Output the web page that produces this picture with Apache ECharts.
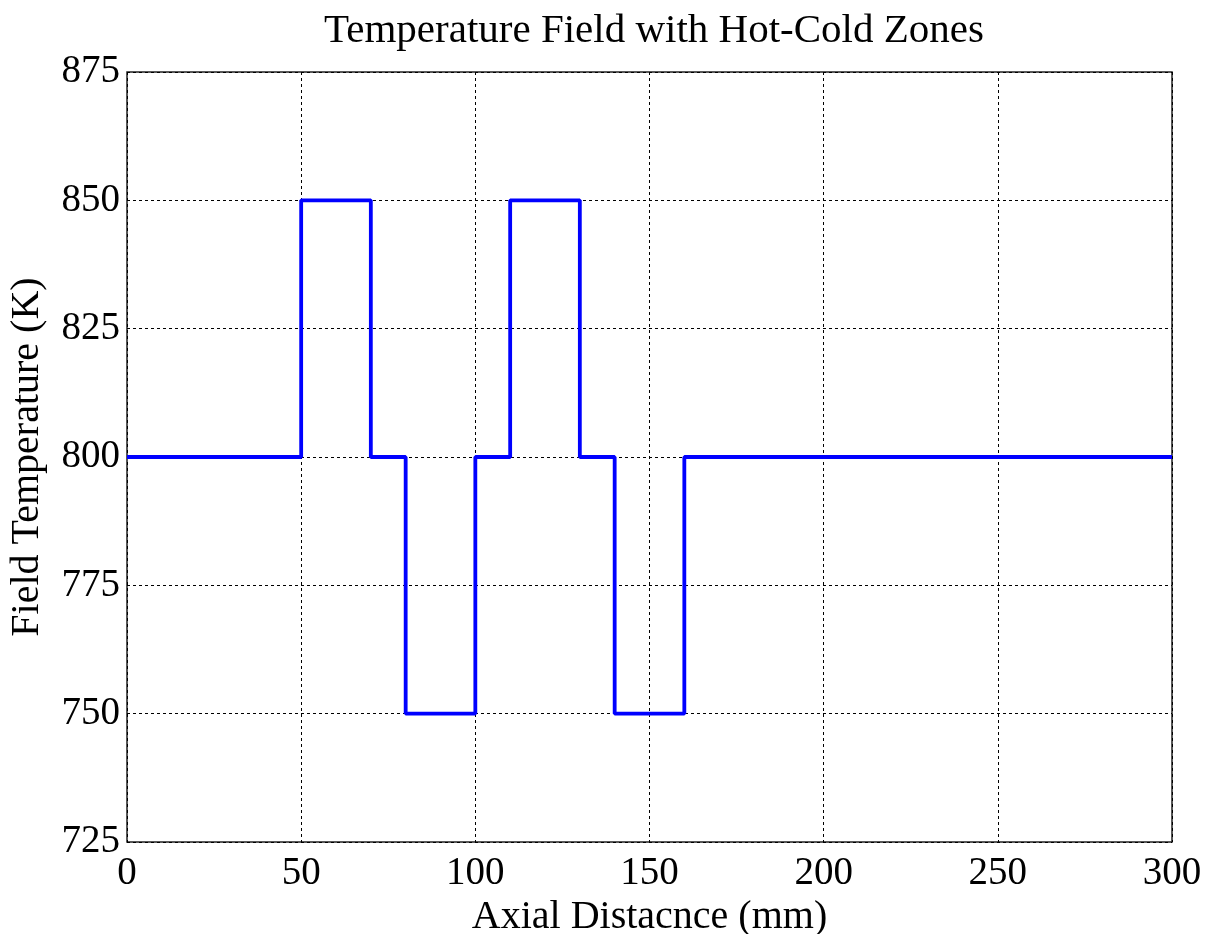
<!DOCTYPE html>
<html>
<head>
<meta charset="utf-8">
<script src="https://cdn.jsdelivr.net/npm/echarts@6/dist/echarts.min.js"></script>
<style>
  html, body { margin: 0; padding: 0; background: #fff; }
  #chart { width: 1214px; height: 934px; }
</style>
</head>
<body>
<div id="chart"></div>
<script>
// step start positions (mm) and the temperature held from there on (K)
var stepX = [0, 50, 70, 80, 100, 110, 130, 140, 160, 300];
var stepTemp = [800, 850, 800, 750, 800, 850, 800, 750, 800, 800];

var serif = 'Liberation Serif, Times New Roman, serif';
var chart = echarts.init(document.getElementById('chart'));

var points = stepX.map(function (x, i) { return [x, stepTemp[i]]; });

chart.setOption({
  animation: false,
  title: {
    text: 'Temperature Field with Hot-Cold Zones',
    left: 649, top: 6, textAlign: 'center',
    textStyle: { fontFamily: serif, fontSize: 41, fontWeight: 'normal', color: '#000' }
  },
  grid: {
    left: 127, right: 42, top: 72, bottom: 92,
    outerBoundsMode: 'none', containLabel: false,
    show: true, borderColor: '#222', borderWidth: 1.5
  },
  xAxis: {
    type: 'value', min: 0, max: 300, interval: 50,
    name: 'Axial Distacnce (mm)', nameLocation: 'middle', nameGap: 45,
    nameTextStyle: { fontFamily: serif, fontSize: 40, color: '#000' },
    axisLine: { show: false }, axisTick: { show: false },
    axisLabel: { fontFamily: serif, fontSize: 39, color: '#000', margin: 12 },
    splitLine: { lineStyle: { color: '#000', type: [3, 3], width: 1 } }
  },
  yAxis: {
    type: 'value', min: 725, max: 875, interval: 25,
    name: 'Field Temperature (K)', nameLocation: 'middle', nameGap: 80,
    nameTextStyle: { fontFamily: serif, fontSize: 40, color: '#000' },
    axisLine: { show: false }, axisTick: { show: false },
    axisLabel: { fontFamily: serif, fontSize: 39, color: '#000', margin: 7 },
    splitLine: { lineStyle: { color: '#000', type: [3, 3], width: 1 } }
  },
  series: [{
    type: 'line',
    step: 'end',
    data: points,
    symbol: 'none',
    lineStyle: { color: '#0000ff', width: 3.8 }
  }]
});
</script>
</body>
</html>
